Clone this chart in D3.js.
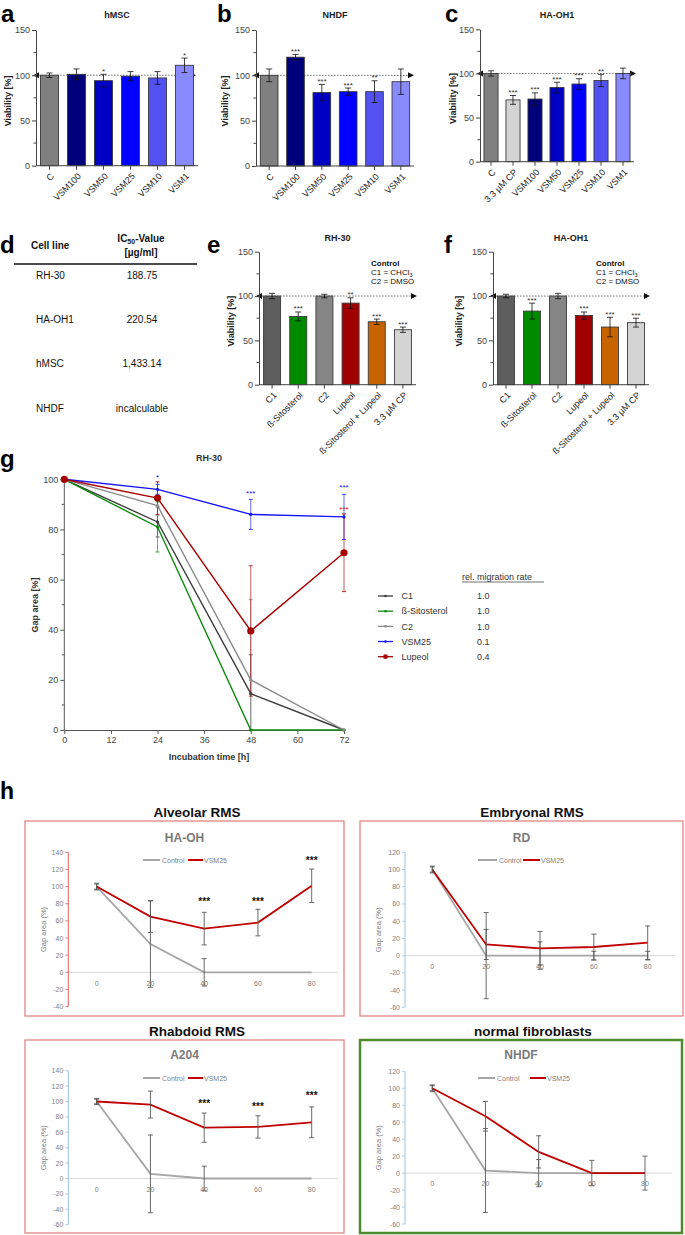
<!DOCTYPE html>
<html><head><meta charset="utf-8">
<script src="https://cdn.jsdelivr.net/npm/d3@7"></script>
<style>body{margin:0;background:#fff}svg{display:block}text{font-family:"Liberation Sans",Arial,sans-serif}</style>
</head><body>
<svg id="fig" width="685" height="1235"></svg>
<script>
// ================= DATA =================
const aCats = ["C","VSM100","VSM50","VSM25","VSM10","VSM1"];
const aVals = [100,101,94,99,97,111];
const aErrs = [2.5,6,7,5,7,8];
const aStars = ["","","*","","","*"];
const bCats = ["C","VSM100","VSM50","VSM25","VSM10","VSM1"];
const bVals = [100,120,81,82,82,93];
const bErrs = [7,3,9,4,12,14];
const bStars = ["","***","***","***","**",""];
const cCats = ["C","3.3 µM CP","VSM100","VSM50","VSM25","VSM10","VSM1"];
const cVals = [100,70,71,84,88,92,100];
const cErrs = [3,5,7,6,6,7,6];
const cStars = ["","***","***","***","***","**",""];
const eCats = ["C1","ß-Sitosterol","C2","Lupeol","ß-Sitosterol + Lupeol","3.3 µM CP"];
const eVals = [100,77,100,92,71,62];
const eErrs = [3,5,2,6,3,3];
const eStars = ["","***","","**","***","***"];
const fCats = ["C1","ß-Sitosterol","C2","Lupeol","ß-Sitosterol + Lupeol","3.3 µM CP"];
const fVals = [100,83,100,78,65,70];
const fErrs = [2,9,3,4,11,5];
const fStars = ["","***","","***","***","***"];
const barYTicks = [0,50,100,150];

const dCellLines = ["RH-30","HA-OH1","hMSC","NHDF"];
const dIC50 = ["188.75","220.54","1,433.14","incalculable"];

const gTimes = [0,24,48,72];
const gSeriesNames = ["C1","ß-Sitosterol","C2","VSM25","Lupeol"];
const gC1 = [100,83,14.5,0];      const gC1Err = [0,6,15.5,0];
const gSito = [100,81,0,0];       const gSitoErr = [0,10,0,0];
const gC2 = [100,89.5,20,0];      const gC2Err = [0,4,32,0];
const gVSM25 = [100,96,86,85];    const gVSM25Err = [0,2,6,9];
const gLupeol = [100,92.5,39.5,70.7]; const gLupeolErr = [0,6.5,26,15.5];
const gRates = ["1.0","1.0","1.0","0.1","0.4"];
const gXTicks = [0,12,24,36,48,60,72];
const gYTicks = [0,20,40,60,80,100];

const hTimes = [0,20,40,60,80];
const haohCtrl = [100,33,0,0,0];   const haohCtrlErr = [4,50.5,16,0,0];
const haohVsm = [100,65,51,58,101]; const haohVsmErr = [3,18.5,19,15.5,19.5];
const haohStarT = [40,60,80];      const haohStarV = [83,83,131];
const rdCtrl = [100,0,0,0,0];      const rdCtrlErr = [4,50,16,5,5];
const rdVsm = [100,13,8.5,10,15];  const rdVsmErr = [3,17.5,19.5,15,19.5];
const a204Ctrl = [100,6,0,0,0];    const a204CtrlErr = [4,50.5,16,0,0];
const a204Vsm = [100,96,66,67,73]; const a204VsmErr = [3,17.5,19,14.5,20];
const a204StarT = [40,60,80];      const a204StarV = [98,94,109];
const nhdfCtrl = [100,3,0,0,0];    const nhdfCtrlErr = [4,49.5,16,0,0];
const nhdfVsm = [100,67,25,0,0];   const nhdfVsmErr = [3,17.5,19,15,20];
const hYTicks140m40 = [-40,-20,0,20,40,60,80,100,120,140];
const hYTicks120m60 = [-60,-40,-20,0,20,40,60,80,100,120];
const hYTicks140m60 = [-60,-40,-20,0,20,40,60,80,100,120,140];

// ================= DRAWING =================
const svg = d3.select("#fig");
function txt(g,x,y,s,o={}){
  const t=g.append("text").attr("x",x).attr("y",y).text(s)
    .attr("font-size",o.size||9).attr("fill",o.fill||"#222")
    .attr("font-weight",o.bold?"bold":"normal").attr("text-anchor",o.anchor||"start");
  if(o.baseline) t.attr("dominant-baseline",o.baseline);
  if(o.family) t.attr("font-family",o.family);
  return t;
}
function vtxt(g,cx,cy,s,o={}){
  return g.append("text").attr("transform",`translate(${cx},${cy}) rotate(-90)`).text(s)
    .attr("text-anchor","middle").attr("dominant-baseline","central")
    .attr("font-size",o.size||9).attr("font-weight",o.bold?"bold":"normal").attr("fill",o.fill||"#222")
    .attr("font-family",o.family||null);
}
// panel letters
[["a",1,22],["b",217,22],["c",445,22],["d",0,253],["e",207,253],["f",444,253],["g",0,467],["h",0,799]]
 .forEach(([s,x,y])=>txt(svg,x,y,s,{size:s==="h"?23:24,bold:true,fill:"#000"}));

const palA = ["#808080","#00007a","#0000c4","#0000ff","#5252f2","#8a8aff"];
const palC = ["#808080","#d4d4d4","#00007a","#0000c4","#0000ff","#5252f2","#8a8aff"];
const palE = ["#5e5e5e","#008a00","#858585","#a00000","#c86400","#d4d4d4"];

function barPanel(o){
  const g=svg.append("g");
  const y=d3.scaleLinear().domain([0,150]).range([o.yBot,o.yTop]);
  const x=d3.scaleBand().domain(o.cats).range([o.x0,o.x1]).paddingInner(o.pad).paddingOuter(o.pad/2);
  const y100=y(100);
  g.append("line").attr("x1",o.x0).attr("x2",o.arrowX-5).attr("y1",y100).attr("y2",y100)
    .attr("stroke","#444").attr("stroke-width",0.7).attr("stroke-dasharray","1.6,1.4");
  g.append("path").attr("d",`M${o.arrowX},${y100}L${o.arrowX-6},${y100-3}L${o.arrowX-6},${y100+3}Z`).attr("fill","#111");
  g.append("path").attr("d",`M${o.x0-3},${y100}L${o.x0+3},${y100-3}L${o.x0+3},${y100+3}Z`).attr("fill","#111");
  g.selectAll("rect.bar").data(o.vals).join("rect").attr("class","bar")
    .attr("x",(d,i)=>x(o.cats[i])).attr("width",x.bandwidth())
    .attr("y",d=>y(d)).attr("height",d=>y(0)-y(d))
    .attr("fill",(d,i)=>o.colors[i]).attr("stroke","#3a3a3a").attr("stroke-width",0.9);
  o.vals.forEach((v,i)=>{
    const cx=x(o.cats[i])+x.bandwidth()/2, e=o.errs[i];
    const y1=y(v-e), y2=y(v+e);
    g.append("line").attr("x1",cx).attr("x2",cx).attr("y1",y1).attr("y2",y2).attr("stroke","#111").attr("stroke-width",0.8);
    [y1,y2].forEach(yy=>g.append("line").attr("x1",cx-3).attr("x2",cx+3).attr("y1",yy).attr("y2",yy).attr("stroke","#111").attr("stroke-width",0.8));
    if(o.stars[i]) txt(g,cx,y2-0.5,o.stars[i],{size:8,anchor:"middle",fill:"#333"});
  });
  // y axis
  const ya=d3.axisLeft(y).tickValues(barYTicks).tickSize(4).tickSizeOuter(0).tickPadding(2);
  const gy=g.append("g").attr("transform",`translate(${o.x0},0)`).call(ya);
  gy.select(".domain").attr("stroke","#444");
  gy.selectAll(".tick line").attr("stroke","#444");
  gy.selectAll(".tick text").attr("font-size",9).attr("fill","#444").attr("font-family",null);
  gy.selectAll("line.minor").data([25,75,125]).join("line").attr("class","minor")
    .attr("x1",-2.5).attr("x2",0).attr("y1",d=>y(d)).attr("y2",d=>y(d)).attr("stroke","#444");
  // x axis
  const xa=d3.axisBottom(x).tickSize(4).tickSizeOuter(0).tickFormat("");
  const gx=g.append("g").attr("transform",`translate(0,${o.yBot})`).call(xa);
  gx.select(".domain").attr("stroke","#444").attr("d",`M${o.x0},0H${o.x1}`);
  gx.selectAll(".tick line").attr("stroke","#444");
  o.cats.forEach(c=>{
    g.append("text").attr("transform",`translate(${x(c)+x.bandwidth()/2+3},${o.yBot+9}) rotate(-45)`)
      .attr("text-anchor","end").attr("dominant-baseline","central").attr("font-size",9).attr("fill","#222").text(c);
  });
  txt(g,(o.x0+o.x1)/2,o.titleY,o.title,{size:9,bold:true,anchor:"middle",fill:"#222"});
  vtxt(g,o.ylabX,(o.yTop+o.yBot)/2+3,"Viability [%]",{size:9,bold:true});
  if(o.legendX){
    txt(g,o.legendX,o.yTop+14,"Control",{size:8,bold:true,fill:"#111"});
    const t1=txt(g,o.legendX,o.yTop+23.5,"C1 = CHCl",{size:8,fill:"#111"});
    t1.append("tspan").attr("font-size",5.5).attr("dy",2).text("3");
    txt(g,o.legendX,o.yTop+32.5,"C2 = DMSO",{size:8,fill:"#111"});
  }
}
barPanel({cats:aCats,vals:aVals,errs:aErrs,stars:aStars,colors:palA,x0:36,x1:198,pad:0.33,yBot:165.7,yTop:30,arrowX:196,title:"hMSC",titleY:18,ylabX:8});
barPanel({cats:bCats,vals:bVals,errs:bErrs,stars:bStars,colors:palA,x0:256,x1:414,pad:0.33,yBot:166,yTop:30,arrowX:414,title:"NHDF",titleY:18,ylabX:225});
barPanel({cats:cCats,vals:cVals,errs:cErrs,stars:cStars,colors:palC,x0:480,x1:634,pad:0.36,yBot:161.7,yTop:29.3,arrowX:636,title:"HA-OH1",titleY:18,ylabX:453});
barPanel({cats:eCats,vals:eVals,errs:eErrs,stars:eStars,colors:palE,x0:259,x1:416,pad:0.35,yBot:384.7,yTop:251.7,arrowX:417,title:"RH-30",titleY:241,ylabX:231,legendX:371});
barPanel({cats:fCats,vals:fVals,errs:fErrs,stars:fStars,colors:palE,x0:493,x1:649,pad:0.35,yBot:384.7,yTop:251.7,arrowX:650,title:"HA-OH1",titleY:241,ylabX:459,legendX:596});

// ---- panel d table ----
{
  const g=svg.append("g");
  txt(g,31,249,"Cell line",{size:10,bold:true,fill:"#111"});
  const t=txt(g,141,242,"IC",{size:10,bold:true,anchor:"middle",fill:"#111"});
  t.append("tspan").attr("font-size",7).attr("dy",2).text("50");
  t.append("tspan").attr("dy",-2).text("-Value");
  txt(g,141,256,"[µg/ml]",{size:10,bold:true,anchor:"middle",fill:"#111"});
  g.append("line").attr("x1",14).attr("x2",197).attr("y1",264).attr("y2",264).attr("stroke","#111").attr("stroke-width",1.3);
  const rowY=d3.scalePoint().domain(dCellLines).range([279,411.5]);
  dCellLines.forEach((c,i)=>{
    txt(g,36,rowY(c),c,{size:10,fill:"#111"});
    txt(g,142,rowY(c),dIC50[i],{size:10,anchor:"middle",fill:"#111"});
  });
}

// ---- panel g ----
{
  const g=svg.append("g");
  const x=d3.scaleLinear().domain([0,72]).range([64.3,344]);
  const y=d3.scaleLinear().domain([0,100]).range([730,479.3]);
  const ax="#555";
  const gy=g.append("g").attr("transform","translate(64.3,0)").call(d3.axisLeft(y).tickValues(gYTicks).tickSize(4).tickSizeOuter(0).tickPadding(2));
  gy.select(".domain").attr("stroke",ax).attr("d","M0,730V479.3");
  gy.selectAll(".tick line").attr("stroke",ax);
  gy.selectAll(".tick text").attr("font-size",9).attr("fill","#444");
  gy.selectAll("line.minor").data([10,30,50,70,90]).join("line").attr("class","minor").attr("x1",-2.5).attr("x2",0).attr("y1",d=>y(d)).attr("y2",d=>y(d)).attr("stroke",ax);
  const gx=g.append("g").attr("transform","translate(0,730)").call(d3.axisBottom(x).tickValues(gXTicks).tickSize(4).tickSizeOuter(0).tickPadding(3));
  gx.select(".domain").attr("stroke",ax);
  gx.selectAll(".tick line").attr("stroke",ax);
  gx.selectAll(".tick text").attr("font-size",9).attr("fill","#444");
  txt(g,209,760,"Incubation time [h]",{size:9,bold:true,anchor:"middle",fill:"#333"});
  vtxt(g,35,605,"Gap area [%]",{size:9,bold:true,fill:"#333"});
  txt(g,209,461,"RH-30",{size:9,bold:true,anchor:"middle",fill:"#333"});
  const series=[
    {v:gC1,e:gC1Err,c:"#3d3d3d",r:1.6},
    {v:gSito,e:gSitoErr,c:"#0f8a0f",r:1.6},
    {v:gC2,e:gC2Err,c:"#8c8c8c",r:1.6},
    {v:gVSM25,e:gVSM25Err,c:"#1414ff",r:1.6},
    {v:gLupeol,e:gLupeolErr,c:"#a80000",r:3.6}];
  series.forEach(s=>{
    s.v.forEach((v,i)=>{
      if(!s.e[i]) return;
      const cx=x(gTimes[i]), y1=y(Math.max(0,v-s.e[i])), y2=y(v+s.e[i]);
      g.append("line").attr("x1",cx).attr("x2",cx).attr("y1",y1).attr("y2",y2).attr("stroke",s.c).attr("stroke-width",0.8).attr("opacity",0.8);
      [y1,y2].forEach(yy=>g.append("line").attr("x1",cx-2).attr("x2",cx+2).attr("y1",yy).attr("y2",yy).attr("stroke",s.c).attr("stroke-width",0.8));
    });
  });
  const line=d3.line().x((d,i)=>x(gTimes[i])).y(d=>y(d));
  series.forEach(s=>{
    g.append("path").attr("d",line(s.v)).attr("fill","none").attr("stroke",s.c).attr("stroke-width",1.4);
    g.selectAll(null).data(s.v).join("circle").attr("cx",(d,i)=>x(gTimes[i])).attr("cy",d=>y(d)).attr("r",s.r).attr("fill",s.c);
  });
  txt(g,x(24),y(101)+3,"*",{size:8,anchor:"middle",fill:"#1414ff"});
  txt(g,x(48),y(94.5)+3,"***",{size:8,anchor:"middle",fill:"#1414ff"});
  txt(g,x(72),y(97)+3,"***",{size:8,anchor:"middle",fill:"#1414ff"});
  txt(g,x(72),y(88)+3,"***",{size:8,anchor:"middle",fill:"#c02020"});
  // legend
  txt(g,462,580,"rel. migration rate",{size:9,fill:"#333"});
  g.append("line").attr("x1",462).attr("x2",544).attr("y1",582).attr("y2",582).attr("stroke","#333").attr("stroke-width",0.7);
  const ly=d3.scalePoint().domain(gSeriesNames).range([596,656.7]);
  gSeriesNames.forEach((n,i)=>{
    const yy=ly(n), s=series[i];
    g.append("line").attr("x1",378).attr("x2",393).attr("y1",yy).attr("y2",yy).attr("stroke",s.c).attr("stroke-width",1.3);
    g.append("circle").attr("cx",385.5).attr("cy",yy).attr("r",i===4?2.4:1.3).attr("fill",s.c);
    txt(g,401.5,yy+3.2,n,{size:9,fill:"#333"});
    txt(g,477,yy+3.2,gRates[i],{size:9,fill:"#333"});
  });
}

// ---- panel h ----
function hPanel(o){
  const g=svg.append("g");
  const gray="#7f7f7f";
  g.append("rect").attr("x",o.box[0]).attr("y",o.box[1]).attr("width",o.box[2]-o.box[0]).attr("height",o.box[3]-o.box[1])
    .attr("fill","none").attr("stroke",o.boxColor).attr("stroke-width",o.boxW);
  txt(g,o.outerX,o.box[1]-4,o.outer,{size:13.5,bold:true,anchor:"middle",fill:"#111"});
  txt(g,(o.box[0]+o.box[2])/2,o.titleY,o.title,{size:12,bold:true,anchor:"middle",fill:"#7a7a7a"});
  const x=d3.scaleLinear().domain([0,80]).range(o.xr);
  const y=d3.scaleLinear().domain(o.yd).range(o.yr);
  g.append("line").attr("x1",o.axisX).attr("x2",o.zeroEnd).attr("y1",y(0)).attr("y2",y(0)).attr("stroke","#d9d9d9").attr("stroke-width",1);
  g.append("line").attr("x1",o.axisX).attr("x2",o.axisX).attr("y1",o.yr[0]).attr("y2",o.yr[1]).attr("stroke",o.axisColor).attr("stroke-width",1);
  o.ticks.forEach(t=>{
    g.append("line").attr("x1",o.axisX-3).attr("x2",o.axisX).attr("y1",y(t)).attr("y2",y(t)).attr("stroke",o.axisColor).attr("stroke-width",0.8);
    txt(g,o.axisX-5,y(t),String(t),{size:7,anchor:"end",baseline:"central",fill:gray});
  });
  hTimes.forEach(t=>txt(g,x(t),o.xlabY,String(t),{size:7,anchor:"middle",baseline:"central",fill:gray}));
  vtxt(g,o.ylabX,(o.yr[0]+o.yr[1])/2,"Gap area (%)",{size:7.5,fill:gray});
  const L=o.leg;
  g.append("line").attr("x1",L[0]).attr("x2",L[1]).attr("y1",o.legY).attr("y2",o.legY).attr("stroke","#a6a6a6").attr("stroke-width",2);
  txt(g,L[1]+2,o.legY,"Control",{size:7,baseline:"central",fill:gray});
  g.append("line").attr("x1",L[2]).attr("x2",L[3]).attr("y1",o.legY).attr("y2",o.legY).attr("stroke","#c00000").attr("stroke-width",2);
  txt(g,L[3]+1,o.legY,"VSM25",{size:7,baseline:"central",fill:gray});
  const line=d3.line().x((d,i)=>x(hTimes[i])).y(d=>y(d));
  g.append("path").attr("d",line(o.ctrl)).attr("fill","none").attr("stroke","#a6a6a6").attr("stroke-width",1.8);
  const eb=(vals,errs)=>vals.forEach((v,i)=>{
    if(!errs[i]) return;
    const cx=x(hTimes[i]), y1=y(v-errs[i]), y2=y(v+errs[i]);
    g.append("line").attr("x1",cx).attr("x2",cx).attr("y1",y1).attr("y2",y2).attr("stroke","#595959").attr("stroke-width",0.9);
    [y1,y2].forEach(yy=>g.append("line").attr("x1",cx-2.5).attr("x2",cx+2.5).attr("y1",yy).attr("y2",yy).attr("stroke","#595959").attr("stroke-width",0.9));
  });
  eb(o.ctrl,o.ctrlErr);
  g.append("path").attr("d",line(o.vsm)).attr("fill","none").attr("stroke","#c00000").attr("stroke-width",1.8);
  eb(o.vsm,o.vsmErr);
  if(o.starT) o.starT.forEach((t,i)=>txt(g,x(t),y(o.starV[i])+4,"***",{size:10,bold:true,anchor:"middle",fill:"#111"}));
}
hPanel({outer:"Alveolar RMS",outerX:197,title:"HA-OH",titleY:842,box:[25,821,344,1016],boxColor:"#e27a7a",boxW:1.2,
  axisX:68.3,xr:[96.7,311.7],yd:[-40,140],yr:[1006.6,852.3],zeroEnd:338,ticks:hYTicks140m40,axisColor:"#e06060",
  xlabY:983,ylabX:43,legY:860,leg:[143,160,188,203],ctrl:haohCtrl,ctrlErr:haohCtrlErr,vsm:haohVsm,vsmErr:haohVsmErr,starT:haohStarT,starV:haohStarV});
hPanel({outer:"Embryonal RMS",outerX:532,title:"RD",titleY:842,box:[360,821,683,1016],boxColor:"#e27a7a",boxW:1.2,
  axisX:405,xr:[432.3,647.7],yd:[-60,120],yr:[1007.3,852.3],zeroEnd:675,ticks:hYTicks120m60,axisColor:"#9dc3e6",
  xlabY:966,ylabX:378,legY:860,leg:[478,497,523,540],ctrl:rdCtrl,ctrlErr:rdCtrlErr,vsm:rdVsm,vsmErr:rdVsmErr});
hPanel({outer:"Rhabdoid RMS",outerX:197,title:"A204",titleY:1059,box:[25,1040,344,1233],boxColor:"#e27a7a",boxW:1.2,
  axisX:68.3,xr:[96.7,311.7],yd:[-60,140],yr:[1224.7,1070.7],zeroEnd:338,ticks:hYTicks140m60,axisColor:"#9dc3e6",
  xlabY:1189,ylabX:43,legY:1078,leg:[143,160,188,203],ctrl:a204Ctrl,ctrlErr:a204CtrlErr,vsm:a204Vsm,vsmErr:a204VsmErr,starT:a204StarT,starV:a204StarV});
hPanel({outer:"normal fibroblasts",outerX:533,title:"NHDF",titleY:1059,box:[360,1040,682,1233],boxColor:"#4f8a2c",boxW:2.5,
  axisX:405,xr:[432.3,645],yd:[-60,120],yr:[1224,1071.3],zeroEnd:672,ticks:hYTicks120m60,axisColor:"#9dc3e6",
  xlabY:1183,ylabX:378,legY:1078,leg:[478,495,530,546],ctrl:nhdfCtrl,ctrlErr:nhdfCtrlErr,vsm:nhdfVsm,vsmErr:nhdfVsmErr});
</script>
</body></html>
